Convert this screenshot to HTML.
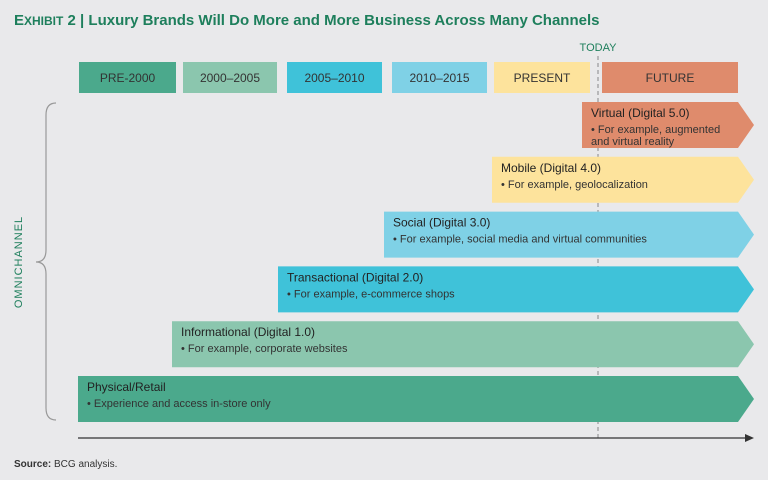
<!DOCTYPE html>
<html><head><meta charset="utf-8"><style>
body{margin:0;background:#e9e9eb;}
#c{position:relative;width:768px;height:480px;overflow:hidden;background:#e9e9eb;font-family:"Liberation Sans",sans-serif;}
</style></head><body>
<div id="c">
<svg width="768" height="480" xmlns="http://www.w3.org/2000/svg" id="s" font-family="Liberation Sans, sans-serif">
<text x="14" y="25" font-size="15" font-weight="bold" fill="#1e7f5c">E<tspan font-size="12">XHIBIT</tspan> 2 | Luxury Brands Will Do More and More Business Across Many Channels</text>
<text x="598" y="51" font-size="11" fill="#1e7f5c" text-anchor="middle">TODAY</text>
<line x1="598" y1="56" x2="598" y2="440" stroke="#888" stroke-dasharray="4,3" stroke-width="1"/>
<g id="hdr"></g><g id="arr"></g>
<path d="M56,103 Q46,103 46,115 L46,250 Q46,262 36,262 Q46,262 46,274 L46,408 Q46,420 56,420" fill="none" stroke="#999" stroke-width="1.2"/>
<text transform="translate(22,262) rotate(-90)" font-size="11" fill="#1e7f5c" text-anchor="middle" letter-spacing="1">OMNICHANNEL</text>
<line x1="78" y1="438" x2="748" y2="438" stroke="#333" stroke-width="1.2"/>
<path d="M754,438 L745,434 L745,442 Z" fill="#333"/>
<text x="14" y="467" font-size="10" fill="#333"><tspan font-weight="bold">Source:</tspan> BCG analysis.</text>
</svg>
</div>
<script>
const periods=["PRE-2000","2000–2005","2005–2010","2010–2015","PRESENT","FUTURE"];
const periodX0=[79,183,287,392,494,602];
const periodX1=[176,277,382,487,590,738];
const periodColors=["#4ba98c","#8bc6ae","#3fc2d9","#7fd1e6","#fde39c","#df8b6c"];
const channels=["Virtual (Digital 5.0)","Mobile (Digital 4.0)","Social (Digital 3.0)","Transactional (Digital 2.0)","Informational (Digital 1.0)","Physical/Retail"];
const channelDesc=[["For example, augmented","and virtual reality"],["For example, geolocalization"],["For example, social media and virtual communities"],["For example, e-commerce shops"],["For example, corporate websites"],["Experience and access in-store only"]];
const channelStart=[582,492,384,278,172,78];
const channelColors=["#df8b6c","#fde39c","#7fd1e6","#3fc2d9","#8bc6ae","#4ba98c"];
const NS="http://www.w3.org/2000/svg";
function mk(t,a,p){const e=document.createElementNS(NS,t);for(const k in a)e.setAttribute(k,a[k]);p.appendChild(e);return e;}
const hdr=document.getElementById('hdr'),arr=document.getElementById('arr');
periods.forEach((p,i)=>{
 const r=mk('rect',{x:periodX0[i],y:62,width:periodX1[i]-periodX0[i],height:31,fill:periodColors[i]},hdr);
 
 
 const t=mk('text',{x:(periodX0[i]+periodX1[i])/2,y:82,'font-size':12,fill:'#333','text-anchor':'middle'},hdr);
 t.textContent=p;
 
 
});
const top0=102,step=54.8,h=46,right=738,tip=16;
channels.forEach((c,i)=>{
 const y=top0+i*step,x=channelStart[i];
 const pa=mk('path',{d:`M${x},${y} L${right},${y} L${right+tip},${y+h/2} L${right},${y+h} L${x},${y+h} Z`,fill:channelColors[i]},arr);
 
 
 const t=mk('text',{x:x+9,y:y+15,'font-size':12,fill:'#222'},arr);
 t.textContent=c;
 
 
 channelDesc[i].forEach((d,j)=>{
  const tt=mk('text',{x:x+9,y:y+31+j*12,'font-size':11,fill:'#333'},arr);
  tt.textContent=(j===0?'• ':'   ')+d;
  tt.setAttribute('xml:space','preserve');
  
  
 });
});
</script>
</body></html>
